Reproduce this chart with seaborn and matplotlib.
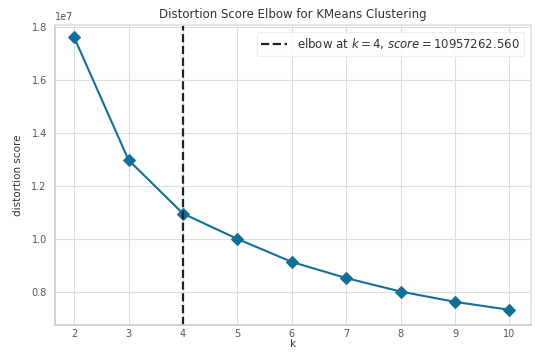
import matplotlib
matplotlib.use("Agg")
import matplotlib.pyplot as plt
import seaborn as sns
import pandas as pd

k_values = [2, 3, 4, 5, 6, 7, 8, 9, 10]
distortion = [1.762e7, 1.298e7, 1.0957262560e7, 1.000e7, 0.913e7, 0.852e7, 0.801e7, 0.762e7, 0.732e7]
elbow_k = 4
elbow_score = 10957262.560

df = pd.DataFrame({"k": k_values, "distortion": distortion})

sns.set_theme(style="whitegrid")
plt.rcParams['font.family'] = ['DejaVu Sans']

fig = plt.figure(figsize=(5.35, 3.52), dpi=100)
ax = fig.add_axes([0.103, 0.077, 0.89, 0.853])

line_color = "#136f95"
sns.lineplot(data=df, x="k", y="distortion", ax=ax, color=line_color, marker="D",
             markersize=6, linewidth=1.5, markeredgecolor=line_color)
ax.axvline(elbow_k, color="#222222", linestyle="--", linewidth=1.6,
           label=f"elbow at $k={elbow_k}$, $score={elbow_score:.3f}$")

ax.set_xlim(1.65, 10.4)
ax.set_ylim(0.675e7, 1.81e7)
ax.set_xticks(k_values)
ax.set_yticks([0.8e7, 1.0e7, 1.2e7, 1.4e7, 1.6e7, 1.8e7])
ax.tick_params(axis="x", labelsize=7, colors="#555555", length=0, pad=3)
ax.tick_params(axis="y", labelsize=7, colors="#555555", length=0, pad=6)
ax.yaxis.get_offset_text().set_fontsize(7)
ax.yaxis.get_offset_text().set_color("#555555")
ax.set_title("Distortion Score Elbow for KMeans Clustering", fontsize=8.5, color="#333333", pad=5)
ax.set_xlabel("k", fontsize=7.5, color="#333333", labelpad=0)
ax.set_ylabel("distortion score", fontsize=7.5, color="#333333", labelpad=6)
ax.grid(True, color="#dddddd", linewidth=0.8)
for s in ax.spines.values():
    s.set_visible(True)
    s.set_color("#e2e2e2")
ax.spines["left"].set_color("#cccccc")
ax.spines["bottom"].set_color("#cccccc")
leg = ax.legend(loc="upper right", fontsize=8.5, frameon=True, framealpha=0.9,
                edgecolor="#eeeeee", handlelength=2.2, borderaxespad=0.6)
for t in leg.get_texts():
    t.set_color("#333333")

fig.savefig("out.png", dpi=100)
